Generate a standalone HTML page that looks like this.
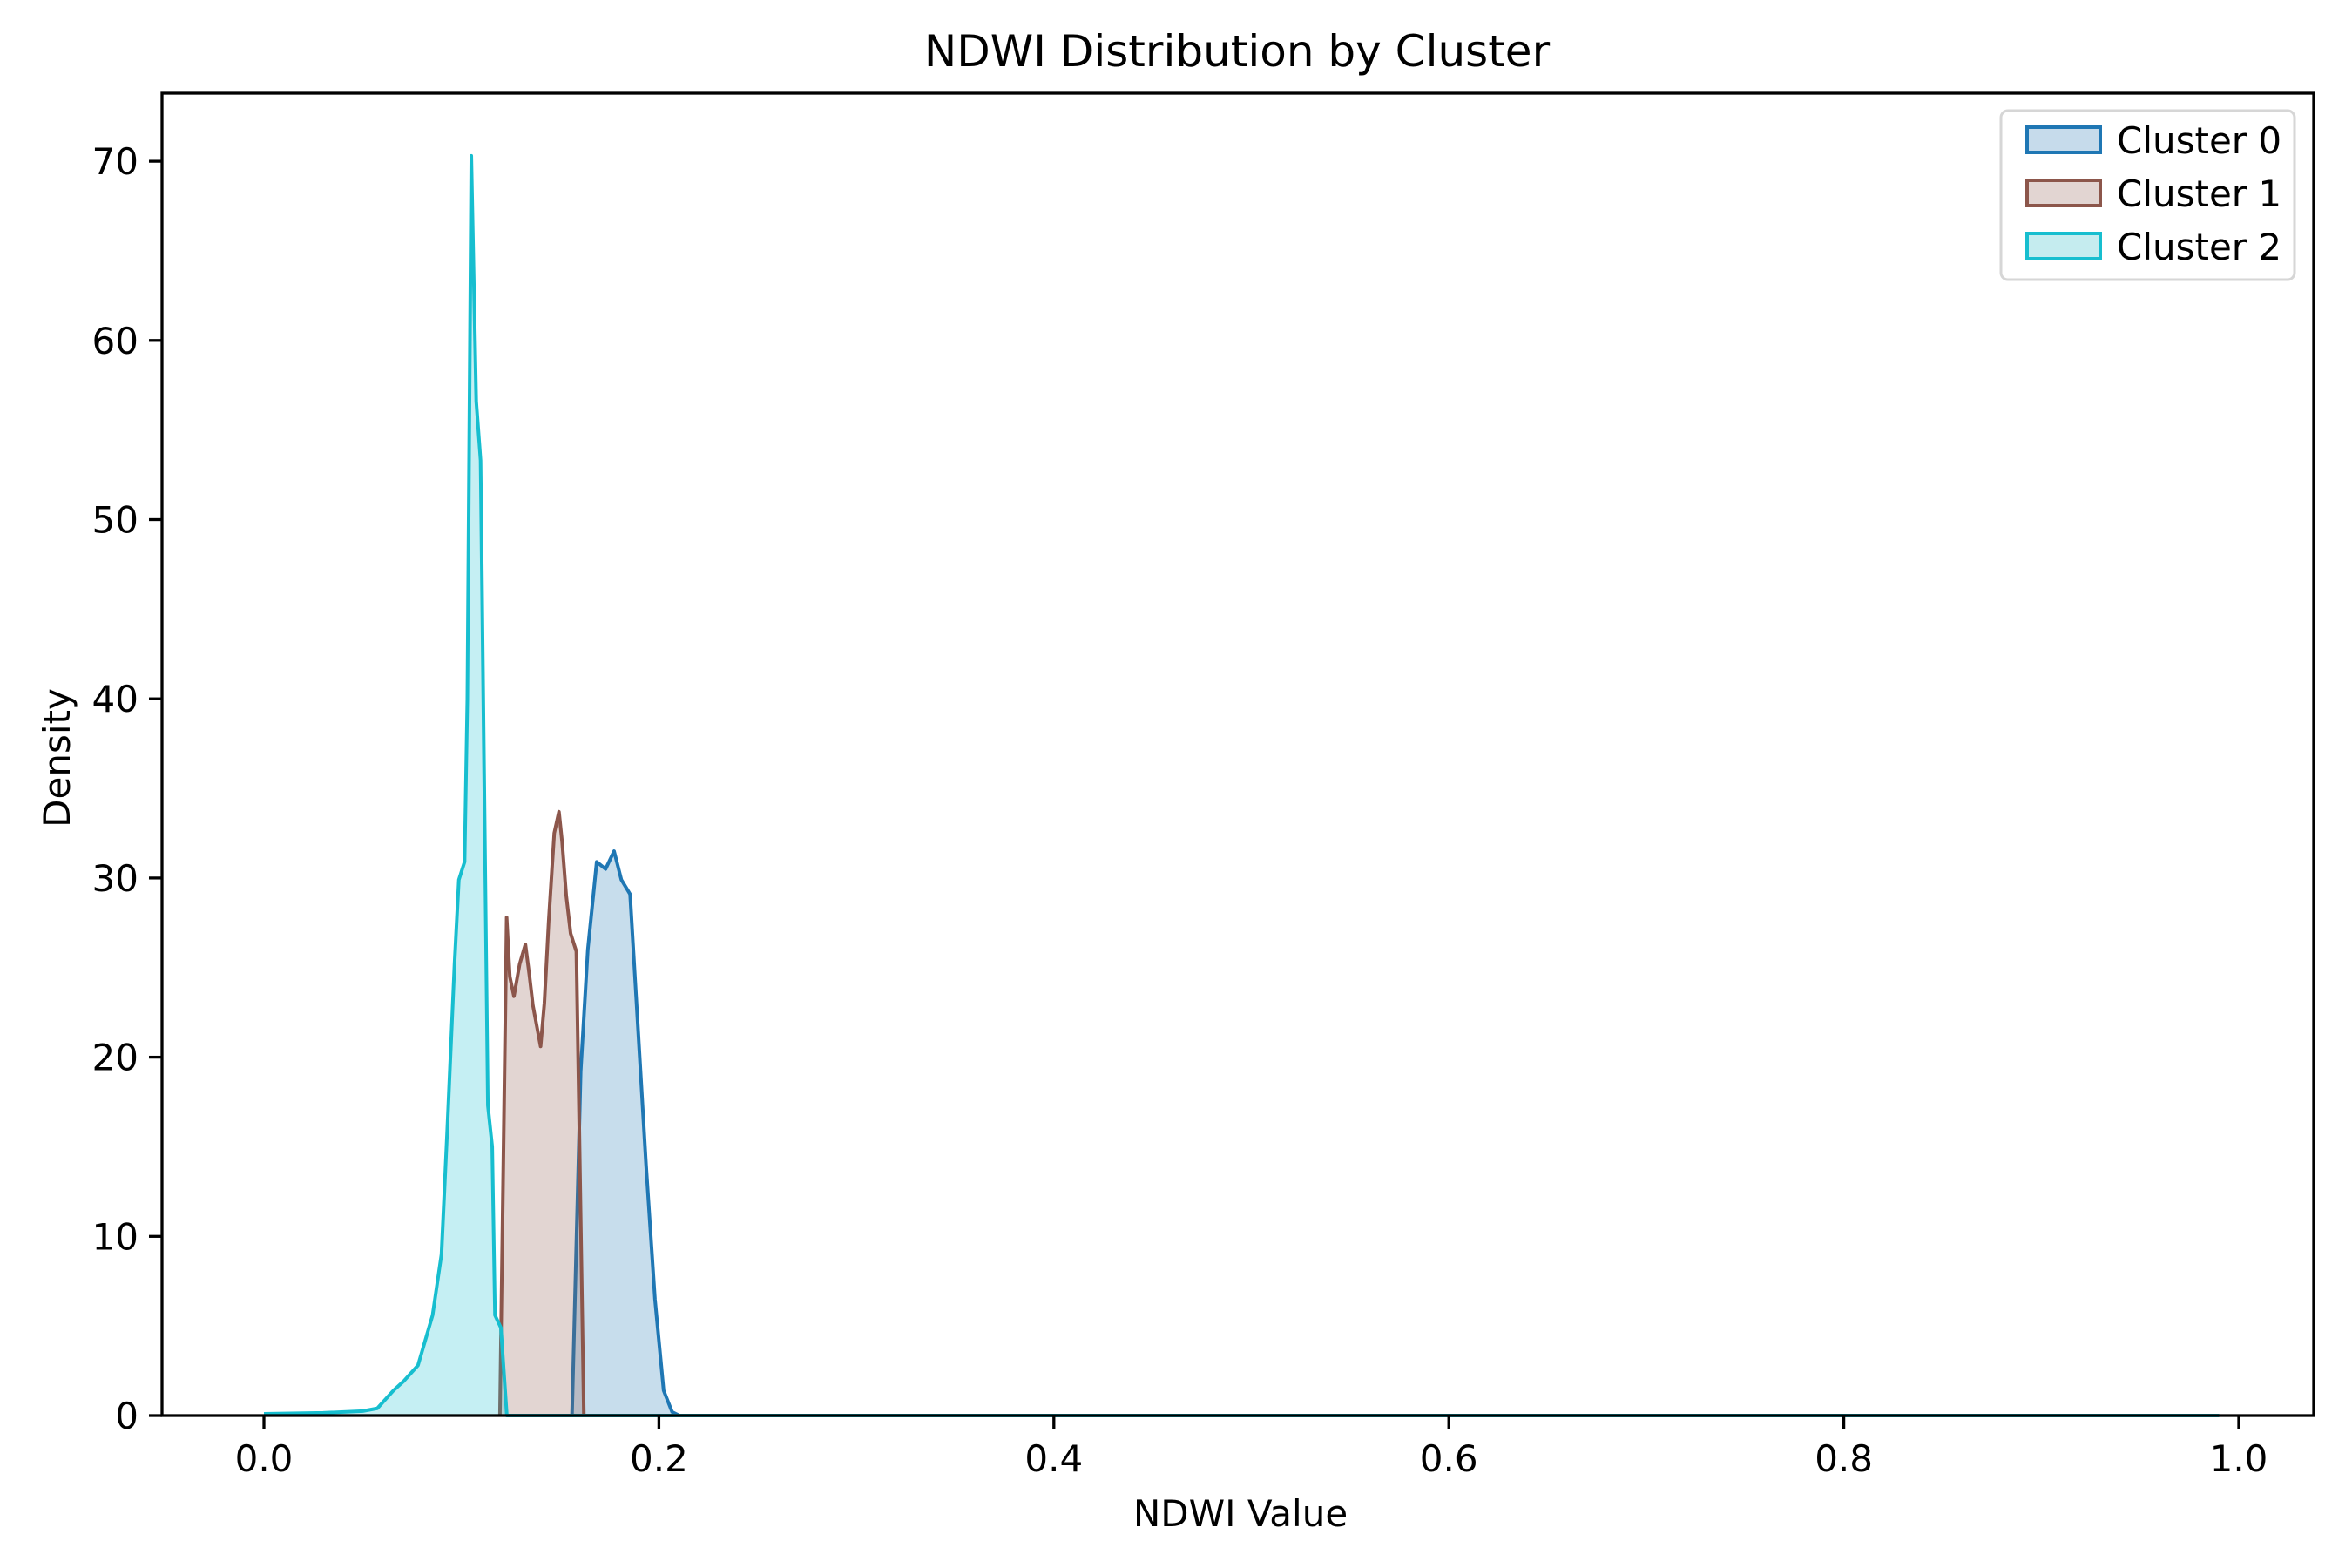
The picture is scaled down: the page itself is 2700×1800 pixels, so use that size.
<!DOCTYPE html>
<html><head><meta charset="utf-8"><style>
html,body{margin:0;padding:0;background:#fff}
svg{display:block;font-family:"DejaVu Sans","Liberation Sans",sans-serif}
</style></head><body>
<svg id="chart" width="2700" height="1800" viewBox="0 0 2700 1800" xmlns="http://www.w3.org/2000/svg">
<rect width="2700" height="1800" fill="#fff"/>
<text x="1420" y="76" font-size="50" text-anchor="middle">NDWI Distribution by Cluster</text>
<g id="plot"></g>
<g id="axes"></g>
<text x="1424" y="1752" font-size="42" text-anchor="middle">NDWI Value</text>
<text transform="translate(80,870) rotate(-90)" font-size="42" text-anchor="middle">Density</text>
<g>
<rect x="2297" y="127" width="337" height="194" rx="8" fill="#fff" fill-opacity="0.8" stroke="#d6d6d6" stroke-width="3"/>
<rect x="2327" y="146" width="84" height="29" fill="#c6dbeb" stroke="#1f77b4" stroke-width="4"/>
<text x="2430" y="176" font-size="42">Cluster 0</text>
<rect x="2327" y="207" width="84" height="29" fill="#e2d5d2" stroke="#8c564b" stroke-width="4"/>
<text x="2430" y="237" font-size="42">Cluster 1</text>
<rect x="2327" y="268" width="84" height="29" fill="#c5ecef" stroke="#17becf" stroke-width="4"/>
<text x="2430" y="298" font-size="42">Cluster 2</text>
</g>
</svg>
<script>
const xTicks = [0.0, 0.2, 0.4, 0.6, 0.8, 1.0];
const xTickLabels = ["0.0","0.2","0.4","0.6","0.8","1.0"];
const yTicks = [0, 10, 20, 30, 40, 50, 60, 70];
const yTickLabels = ["0","10","20","30","40","50","60","70"];
const c2x = [0.0,0.03,0.05,0.0574,0.0656,0.0706,0.078,0.0854,0.0899,0.0928,0.0965,0.0987,0.1016,0.103,0.105,0.1075,0.1097,0.1134,0.1156,0.117,0.12,0.123,0.99];
const c2y = [0.1,0.15,0.25,0.4,1.4,1.9,2.8,5.6,9,15.9,25.2,29.9,30.9,40,70.3,56.6,53.3,17.3,15,5.6,4.9,0,0];
const c1x = [0.1195,0.1229,0.1245,0.1266,0.1295,0.1324,0.1345,0.1362,0.1401,0.142,0.1442,0.147,0.1494,0.151,0.1531,0.1553,0.1582,0.1597,0.162];
const c1y = [0,27.8,24.5,23.4,25.2,26.3,24.5,22.9,20.6,23,27.6,32.5,33.7,32,29,26.9,25.9,15.9,0];
const c0x = [0.156,0.1604,0.164,0.1685,0.173,0.1773,0.181,0.1854,0.1935,0.198,0.2024,0.2067,0.2104,0.99];
const c0y = [0,19.2,26,30.9,30.5,31.5,29.9,29.1,14,6.5,1.4,0.2,0,0];

const NS = "http://www.w3.org/2000/svg";
const L = 186, R = 2656, T = 107, B = 1625;
function sx(v){ return 303 + v * 2267; }
function sy(v){ return B - v * 20.57; }
const plot = document.getElementById('plot');
const axes = document.getElementById('axes');
function series(xs, ys, fill, stroke, name){
  let d = "M" + sx(xs[0]) + "," + sy(0);
  for (let i = 0; i < xs.length; i++) d += " L" + sx(xs[i]) + "," + sy(ys[i]);
  d += " L" + sx(xs[xs.length-1]) + "," + sy(0) + " Z";
  const a = document.createElementNS(NS, 'path');
  a.setAttribute('d', d); a.setAttribute('fill', fill); a.setAttribute('fill-opacity', '0.25');
  
  
  plot.appendChild(a);
  let ld = "";
  for (let i = 0; i < xs.length; i++) ld += (i ? " L" : "M") + sx(xs[i]) + "," + sy(ys[i]);
  const p = document.createElementNS(NS, 'path');
  p.setAttribute('d', ld); p.setAttribute('fill', 'none'); p.setAttribute('stroke', stroke);
  p.setAttribute('stroke-width', '4'); p.setAttribute('stroke-linejoin', 'round');
  
  
  plot.appendChild(p);
}
series(c0x, c0y, '#1f77b4', '#1f77b4', 'cluster-0');
series(c1x, c1y, '#8c564b', '#8c564b', 'cluster-1');
series(c2x, c2y, '#17becf', '#17becf', 'cluster-2');

const frame = document.createElementNS(NS, 'rect');
frame.setAttribute('x', L); frame.setAttribute('y', T);
frame.setAttribute('width', R - L); frame.setAttribute('height', B - T);
frame.setAttribute('fill', 'none'); frame.setAttribute('stroke', '#000'); frame.setAttribute('stroke-width', '3.3');


axes.appendChild(frame);
xTicks.forEach((v, i) => {
  const t = document.createElementNS(NS, 'line');
  t.setAttribute('x1', sx(v)); t.setAttribute('x2', sx(v)); t.setAttribute('y1', B); t.setAttribute('y2', B + 15);
  t.setAttribute('stroke', '#000'); t.setAttribute('stroke-width', '3.3');
  
  
  axes.appendChild(t);
  const s = document.createElementNS(NS, 'text');
  s.setAttribute('x', sx(v)); s.setAttribute('y', B + 64); s.setAttribute('font-size', '42'); s.setAttribute('text-anchor', 'middle');
  s.textContent = xTickLabels[i];
  
  
  axes.appendChild(s);
});
yTicks.forEach((v, i) => {
  const t = document.createElementNS(NS, 'line');
  t.setAttribute('x1', L - 15); t.setAttribute('x2', L); t.setAttribute('y1', sy(v)); t.setAttribute('y2', sy(v));
  t.setAttribute('stroke', '#000'); t.setAttribute('stroke-width', '3.3');
  
  
  axes.appendChild(t);
  const s = document.createElementNS(NS, 'text');
  s.setAttribute('x', L - 27); s.setAttribute('y', sy(v) + 15); s.setAttribute('font-size', '42'); s.setAttribute('text-anchor', 'end');
  s.textContent = yTickLabels[i];
  
  
  axes.appendChild(s);
});
</script>
</body></html>
